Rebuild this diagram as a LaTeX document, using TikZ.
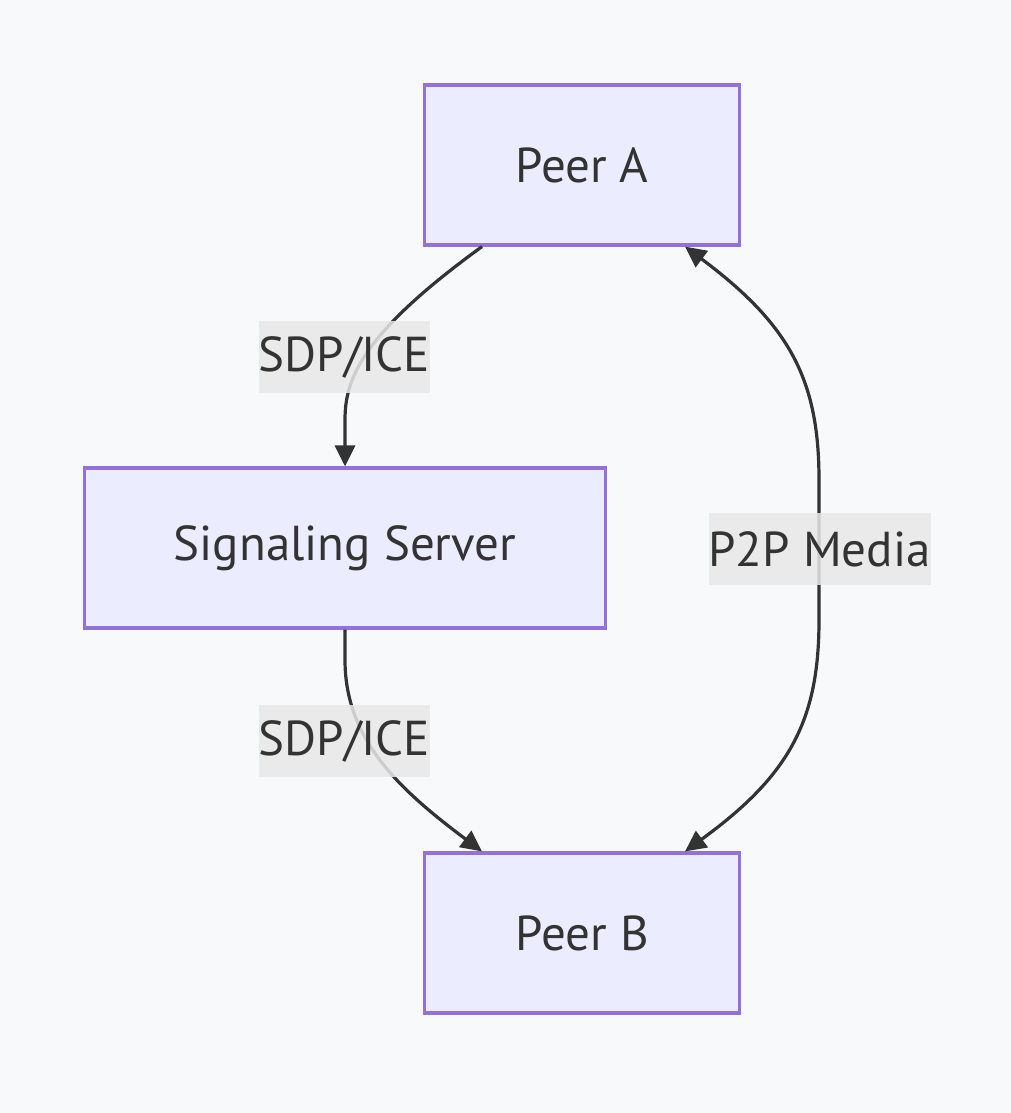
\documentclass[tikz,border=0pt]{standalone}
\usepackage{fontspec}
\setmainfont{PT Sans}
\usetikzlibrary{arrows.meta,calc}
\definecolor{bgc}{HTML}{F8F9FA}
\definecolor{nodefill}{HTML}{ECECFF}
\definecolor{nodeborder}{HTML}{9370DB}
\definecolor{linec}{HTML}{333333}
\definecolor{lblbg}{HTML}{E8E8E8}
\tikzset{
  box/.style={draw=nodeborder, fill=nodefill, line width=3.2pt, text=linec, minimum height=160pt, inner sep=0pt, font=\fontsize{49}{56}\selectfont},
  edge/.style={draw=linec, line width=3.2pt, -{Triangle[length=21pt,width=20pt]}},
  lbl/.style={fill=lblbg, fill opacity=0.85, text opacity=1, text=linec, inner sep=0pt, minimum height=72pt, font=\fontsize{49}{56}\selectfont}
}
\begin{document}
\begin{tikzpicture}[x=1pt,y=-1pt]
\fill[bgc] (0,0) rectangle (1011,1113);
\useasboundingbox (0,0) rectangle (1011,1113);
\node[box, minimum width=315pt] (pa) at (582,165) {Peer A};
\node[box, minimum width=521pt] (ss) at (345,548) {Signaling Server};
\node[box, minimum width=315pt] (pb) at (582,933) {Peer B};
\draw[edge] ([xshift=-100pt]pa.south) .. controls (360,335) and (345,380) .. (345,420) -- (ss.north);
\draw[edge] (ss.south) -- (345,660) .. controls (345,740) and (400,790) .. ([xshift=-100pt]pb.north);
\draw[edge, {Triangle[length=21pt,width=20pt]}-{Triangle[length=21pt,width=20pt]}] ([xshift=103pt]pa.south) .. controls (790,325) and (819,380) .. (819,480) -- (819,620) .. controls (819,720) and (790,775) .. ([xshift=103pt]pb.north);
\node[lbl, minimum width=171pt] (l1) at (344.5,357) {SDP/ICE};
\node[lbl, minimum width=171pt] (l2) at (344.5,741) {SDP/ICE};
\node[lbl, minimum width=219pt] (l3) at (819.5,549) {P2P Media};
\end{tikzpicture}
\end{document}
